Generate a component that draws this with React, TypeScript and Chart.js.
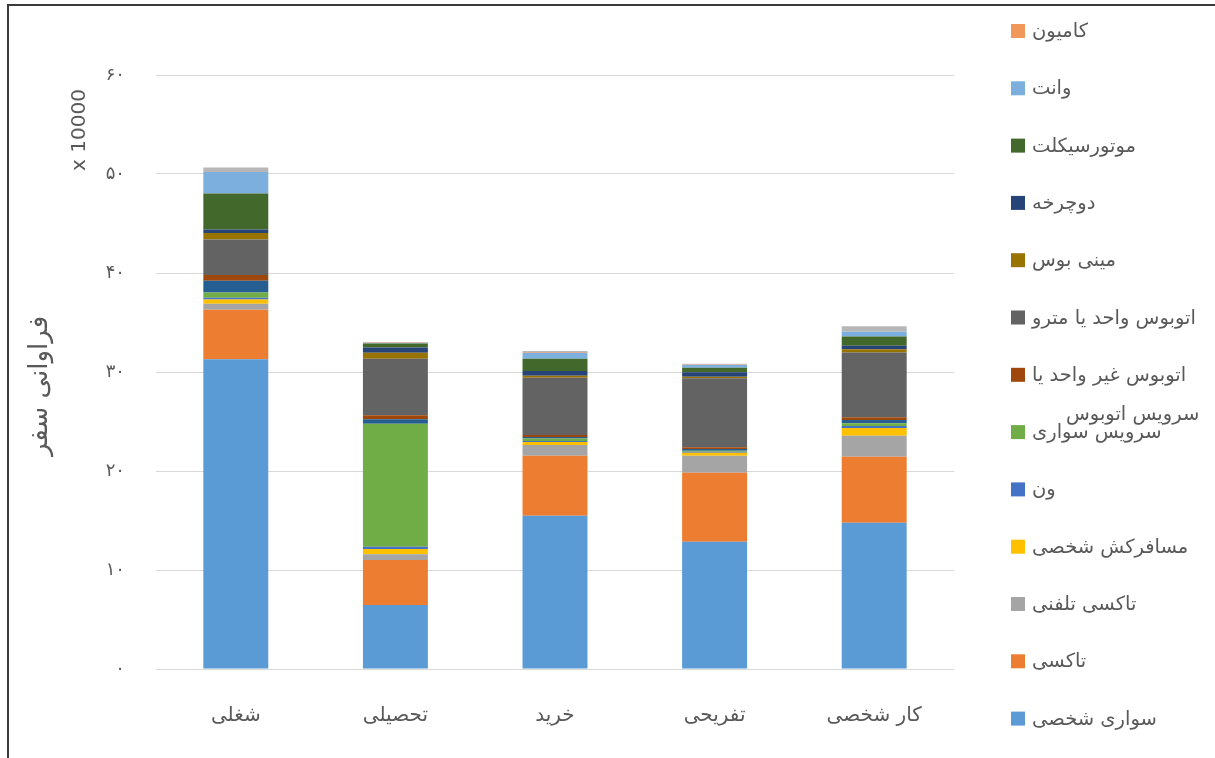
import React, { useEffect, useRef } from "react";
import { Chart, registerables } from "chart.js";

Chart.register(...registerables);

// Values in units of 10000 trips
const categories = ["شغلی", "تحصیلی", "خرید", "تفریحی", "کار شخصی"];

const personalCar = [31.28, 6.46, 15.48, 12.86, 14.78];
const taxi = [5.01, 4.55, 6.06, 6.97, 6.67];
const phoneTaxi = [0.6, 0.57, 1.08, 1.72, 2.12];
const privateCarrier = [0.44, 0.54, 0.3, 0.3, 0.78];
const van = [0.17, 0.24, 0.12, 0.1, 0.2];
const carService = [0.54, 12.42, 0.25, 0.1, 0.27];
const busService = [1.18, 0.44, 0.15, 0.17, 0.34];
const nonUnitBus = [0.57, 0.4, 0.2, 0.17, 0.27];
const unitBusMetro = [3.6, 5.72, 5.79, 6.97, 6.53];
const miniBus = [0.64, 0.6, 0.2, 0.17, 0.34];
const bicycle = [0.37, 0.54, 0.47, 0.44, 0.34];
const motorcycle = [3.64, 0.4, 1.25, 0.47, 0.94];
const pickup = [2.15, 0.05, 0.6, 0.27, 0.5];
const truck = [0, 0.03, 0.08, 0.03, 0.03];
const other = [0.47, 0.08, 0.09, 0.1, 0.5];

const seriesNames = [
  "سواری شخصی",
  "تاکسی",
  "تاکسی تلفنی",
  "مسافرکش شخصی",
  "ون",
  "سرویس سواری",
  "سرویس اتوبوس",
  "اتوبوس غیر واحد یا",
  "اتوبوس واحد یا مترو",
  "مینی بوس",
  "دوچرخه",
  "موتورسیکلت",
  "وانت",
  "کامیون",
  "سایر",
];
const seriesValues = [
  personalCar, taxi, phoneTaxi, privateCarrier, van, carService, busService,
  nonUnitBus, unitBusMetro, miniBus, bicycle, motorcycle, pickup, truck, other,
];
const seriesColors = [
  "#5B9BD5", "#ED7D31", "#A5A5A5", "#FFC000", "#4472C4", "#70AD47", "#255E91",
  "#9E480E", "#636363", "#997300", "#264478", "#43682B", "#7CAFDD", "#F1975A", "#B7B7B7",
];
// series not given their own legend row
const legendHidden = ["سرویس اتوبوس", "سایر"];

const yTicks = [0, 10, 20, 30, 40, 50, 60];
const axisTitle = "فراوانی سفر";
const unitLabel = "x 10000";

const FONT = 'Tahoma, "DejaVu Sans", sans-serif';
const TEXT = "#595959";

const toFa = (v: number | string) =>
  String(v).replace(/\d/g, (d) => "۰۱۲۳۴۵۶۷۸۹"[Number(d)]);

const overlayPlugin = {
  id: "overlay",
  afterDraw(chart: any) {
    const ctx = chart.ctx as CanvasRenderingContext2D;
    ctx.save();
    ctx.fillStyle = TEXT;
    // axis title
    ctx.save();
    ctx.translate(40, 386);
    ctx.rotate(-Math.PI / 2);
    ctx.font = `26px ${FONT}`;
    ctx.textAlign = "center";
    ctx.textBaseline = "middle";
    (ctx as any).direction = "rtl";
    ctx.fillText(axisTitle, 0, 0);
    ctx.restore();
    // display unit
    ctx.save();
    ctx.translate(80, 130);
    ctx.rotate(-Math.PI / 2);
    ctx.font = `20px ${FONT}`;
    ctx.textAlign = "center";
    ctx.textBaseline = "middle";
    (ctx as any).direction = "ltr";
    ctx.fillText(unitLabel, 0, 0);
    ctx.restore();

    // legend
    const entries = chart.data.datasets
      .map((d: any) => ({ label: d.label, color: d.backgroundColor }))
      .filter((e: any) => !legendHidden.includes(e.label))
      .reverse();
    ctx.font = `19.5px ${FONT}`;
    ctx.textAlign = "left";
    ctx.textBaseline = "middle";
    (ctx as any).direction = "rtl";
    entries.forEach((e: any, k: number) => {
      const cy = 31 + k * 57.3;
      ctx.fillStyle = e.color;
      ctx.fillRect(1011, cy - 7, 14, 14);
      ctx.fillStyle = TEXT;
      ctx.fillText(e.label, 1032, cy + 1);
    });
    // overlapping legend text of the bus service series
    ctx.fillStyle = TEXT;
    ctx.fillText(seriesNames[6], 1066, 415);
    ctx.restore();
  },
};

export default function App() {
  const ref = useRef<HTMLCanvasElement>(null);
  useEffect(() => {
    if (!ref.current) return;
    const chart = new Chart(ref.current, {
      type: "bar",
      data: {
        labels: categories,
        datasets: seriesNames.map((name, i) => ({
          label: name,
          data: seriesValues[i],
          backgroundColor: seriesColors[i],
          borderWidth: 0,
          barPercentage: 0.407,
          categoryPercentage: 1,
        })),
      },
      options: {
        responsive: false,
        animation: false,
        layout: { padding: { left: 0, top: 75, right: 261, bottom: 0 } },
        plugins: {
          legend: { display: false },
          title: { display: false },
        },
        scales: {
          x: {
            stacked: true,
            grid: { display: false, drawTicks: false },
            border: { display: false },
            ticks: {
              color: TEXT,
              font: { family: FONT, size: 20 },
              padding: 35,
            },
            afterFit: (s: any) => {
              s.height = 89;
            },
          },
          y: {
            stacked: true,
            min: 0,
            max: 60,
            afterBuildTicks: (s: any) => {
              s.ticks = yTicks.map((v) => ({ value: v }));
            },
            grid: { color: "#D9D9D9", lineWidth: 1, drawTicks: false },
            border: { display: false },
            ticks: {
              color: TEXT,
              font: { family: FONT, size: 18 },
              padding: 31,
              callback: (v: any) => toFa(v),
            },
            afterFit: (s: any) => {
              s.width = 156;
            },
          },
        },
      },
      plugins: [overlayPlugin],
    });
    return () => chart.destroy();
  }, []);

  return (
    <div
      style={{
        position: "fixed",
        left: 0,
        top: 0,
        width: 1215,
        height: 758,
        background: "#fff",
        overflow: "hidden",
      }}
    >
      <canvas ref={ref} width={1215} height={758} style={{ display: "block" }} />
      <div
        style={{
          position: "absolute",
          left: 7,
          top: 4,
          width: 1300,
          height: 900,
          borderLeft: "2px solid #3a3a3a",
          borderTop: "2px solid #3a3a3a",
          pointerEvents: "none",
        }}
      />
    </div>
  );
}
